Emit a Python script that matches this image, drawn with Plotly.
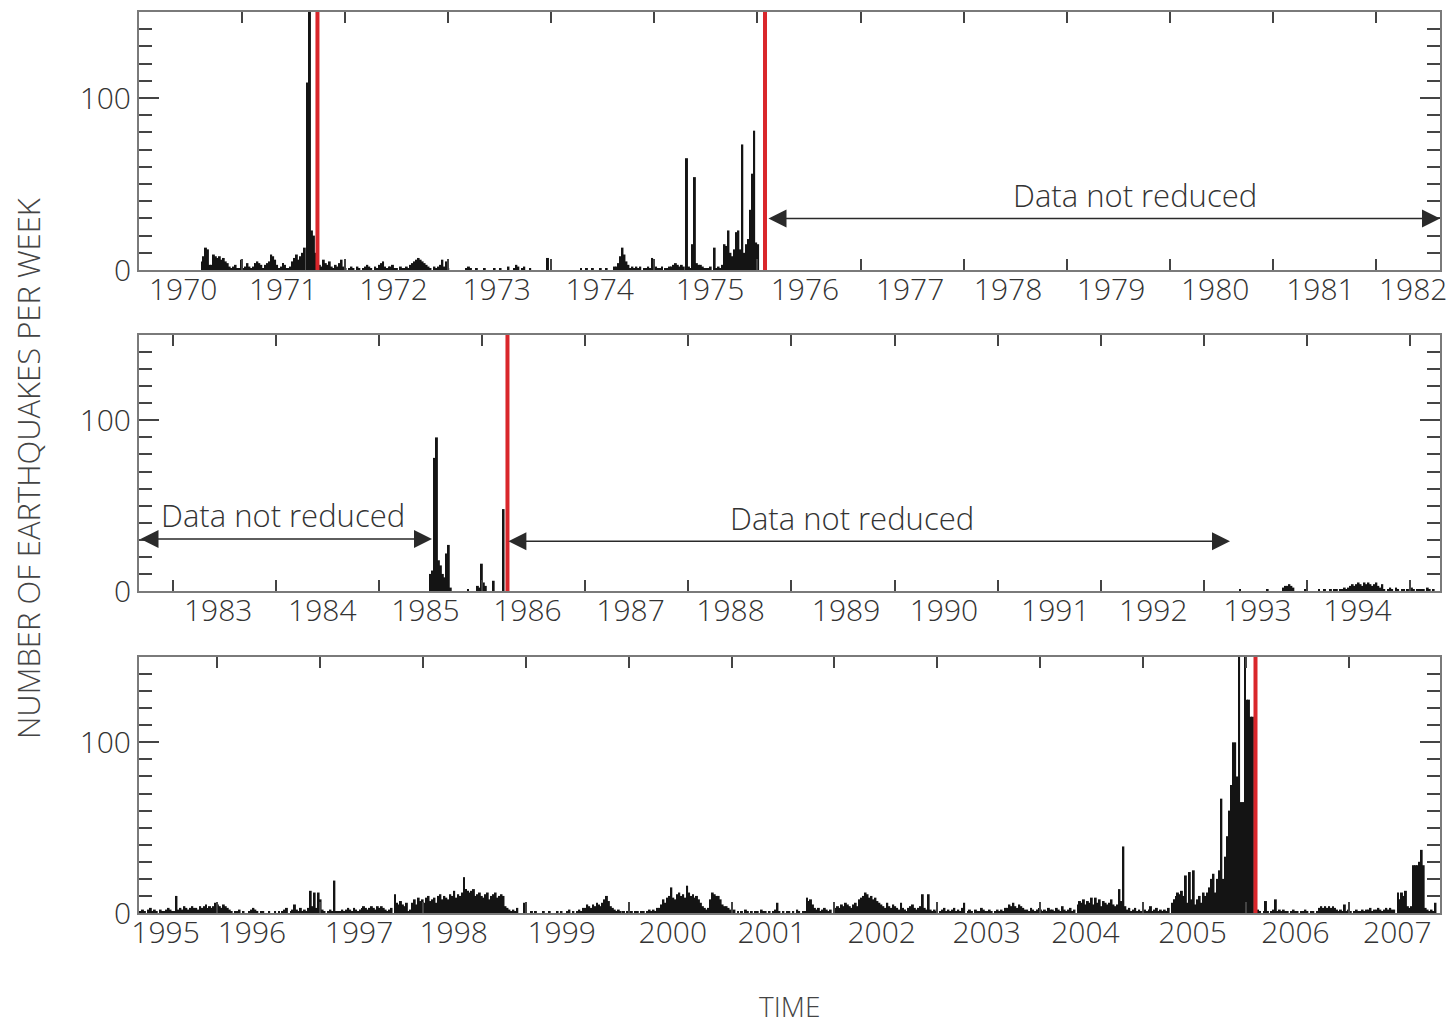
import plotly.graph_objects as go

# ---------------- DATA ----------------
# weekly earthquake counts, given as runs of consecutive weeks: (start year, counts)
p1_a_start, p1_a = 1970.612, [5, 8, 13, 12, 3, 3, 9, 8, 7, 8, 6, 7, 5, 4, 2, 1, 2, 3, 1, 1, 6, 1, 2, 4, 2, 1, 2, 4, 5, 4,
                               3, 1, 3, 4, 5, 9, 8, 6, 3, 1, 2, 4, 3, 1, 1, 2, 5, 7, 9, 6, 8, 10, 13]
p1_b_start, p1_b = 1971.640, [109, 200, 23, 20, 10, 4, 3, 2, 6, 4, 3, 5, 2, 1, 3, 2, 4, 6, 2, 1, 0, 1, 2, 1, 0, 2, 1, 0,
                               1, 2, 3, 2, 1, 0, 2, 1, 3, 4, 5, 2, 1, 2, 2, 3, 1, 1, 0, 2, 1, 1, 2, 1, 3, 4, 5, 6, 7, 6,
                               5, 4, 3, 2, 1, 0, 2, 1, 2, 3, 6, 2, 5, 1]
p1_c_start, p1_c = 1973.182, [1, 2, 1, 0, 0, 1, 0, 0, 0, 1, 0, 0, 0, 0, 1, 0, 0, 1, 0, 0, 0, 2, 0, 0, 1, 3, 2, 0, 1, 2,
                               0, 0, 1, 0, 0, 0, 0, 0, 0, 0, 0, 7]
p1_d_start, p1_d = 1974.288, [1, 0, 0, 1, 0, 0, 1, 0, 0, 0, 1, 0, 0, 1, 0, 0, 0, 2, 2, 4, 8, 13, 9, 5, 3, 1, 2, 1, 2, 1,
                               2, 0, 1, 1, 2, 1, 7, 1, 2, 1, 1, 2, 0, 1, 1, 2, 2, 3, 4, 3, 2, 3, 2]
p1_e_start, p1_e = 1975.316, [65, 2, 1, 15, 54, 4, 3, 3, 2, 1, 1, 1, 2, 0, 13, 1, 2, 1, 3, 15, 14, 23, 10, 8, 12, 22, 23,
                               12, 73, 10, 15, 18, 35, 56, 81, 16, 15]

p2_a_start, p2_a = 1985.504, [10, 12, 78, 90, 18, 15, 10, 8, 22, 27, 2]
p2_b_start, p2_b = 1985.863, [1, 0, 0, 0, 0, 3, 2, 16, 5, 3, 0, 0, 0, 6, 0, 0, 0, 0, 48]
p2_c_start, p2_c = 1993.351, [1, 0, 0, 0, 0, 0, 0, 0, 0, 0, 0, 0, 0, 0, 1, 0, 0, 0, 0, 0, 0, 0, 2, 3, 3, 4, 3, 2, 0, 0,
                               0, 0, 0, 1, 0, 0, 0, 0, 0, 0, 1, 0, 0, 1, 0, 0, 1, 0, 1, 1, 0, 1, 1, 2, 1, 2, 3, 4, 3, 4,
                               5, 4, 3, 5, 4, 5, 4, 3, 4, 5, 3, 2, 4, 1, 0, 1, 2, 1, 0, 2, 1, 0, 1, 1, 0, 1, 0, 2, 1, 0,
                               1, 1, 1, 1, 0, 2, 1, 0, 1]

p3_a_start, p3_a = 1995.261, [1, 2, 1, 0, 2, 3, 1, 2, 1, 0, 2, 1, 1, 2, 3, 2, 1, 1, 10, 2, 3, 2, 4, 3, 2, 3, 4, 3, 3, 2,
                               4, 3, 4, 5, 3, 4, 3, 4, 6, 5, 4, 3, 5, 4, 3, 2, 1, 0, 1, 1, 2, 0, 1, 0, 0, 1, 2, 3, 2, 1,
                               0, 1, 1, 0, 0, 1, 0, 0, 1, 0, 1, 0, 1, 2, 3]
p3_b_start, p3_b = 1996.719, [1, 2, 5, 2, 1, 3, 1, 2, 1, 3, 13, 4, 12, 3, 12, 8, 2, 1, 0, 1, 2, 1, 19, 1, 1, 1, 2, 1, 2,
                               3, 2, 1, 3, 2, 1, 2, 3, 4, 3, 2, 3, 4, 3, 2, 4, 3, 4, 3, 2, 1, 2, 3]
p3_c_start, p3_c = 1997.730, [11, 6, 5, 7, 5, 4, 6, 1, 2, 6, 8, 5, 9, 7, 8, 6, 9, 10, 7, 8, 9, 6, 10, 11, 8, 10, 9, 8,
                               11, 10, 13, 9, 11, 10, 12, 21, 14, 13, 12, 13, 14, 10, 11, 12, 10, 9, 11, 12, 8, 10, 11,
                               12, 9, 10, 11, 10, 4, 3, 2, 1, 2, 1, 3]
p3_d_start, p3_d = 1998.984, [6, 1, 0, 0, 1, 0, 1, 0, 0, 0, 1, 0, 0, 1, 0, 0, 0, 1, 0, 1, 0, 0, 1, 2, 0, 1, 0, 1, 2, 1,
                               3, 3, 5, 4, 3, 5, 4, 6, 5, 4, 6, 8, 10, 7, 4, 3, 2, 1, 2, 1]
p3_e_start, p3_e = 1999.955, [1, 0, 1, 0, 1, 0, 1, 1, 0, 1, 1, 0, 1, 2, 1, 2, 1, 3, 3, 5, 8, 6, 9, 10, 15, 9, 8, 11, 12,
                               10, 11, 9, 16, 12, 10, 11, 9, 10, 8, 6, 4, 3, 2, 3, 8, 12, 11, 10, 10, 8, 5, 4, 4, 3, 2,
                               1, 2]
p3_f_start, p3_f = 2001.063, [1, 0, 1, 0, 2, 1, 0, 1, 0, 1, 1, 0, 2, 1, 1, 0, 1, 0, 1, 2, 6, 1, 0, 1, 0, 1, 1, 0, 1, 0,
                               2, 1, 0, 1, 1, 9, 7, 8, 5, 3, 2, 3, 1, 2, 3, 2, 1, 2]
p3_g_start, p3_g = 2001.996, [2, 3, 4, 3, 5, 4, 6, 5, 4, 3, 5, 6, 4, 8, 9, 10, 12, 11, 9, 10, 8, 9, 7, 6, 5, 4, 3, 6, 4,
                               3, 5, 4, 3, 2, 6, 3, 2, 1, 3, 4, 5, 3, 2, 3, 4, 11, 3, 2, 11, 2, 1, 2, 1, 0, 1, 2, 3, 1,
                               2, 1, 2, 3, 1, 2, 1, 3, 6]
p3_h_start, p3_h = 2003.298, [1, 2, 1, 0, 2, 1, 1, 3, 2, 1, 1, 2, 1, 0, 1, 2, 1, 2, 1, 3, 3, 5, 4, 6, 4, 3, 5, 4, 3, 2,
                               2, 1, 3, 2, 1, 2, 3, 2, 1, 2, 1, 3, 2, 2, 1, 3, 2, 1, 4, 2, 1, 2, 3, 1, 2]
p3_i_start, p3_i = 2004.367, [5, 7, 6, 8, 5, 7, 6, 9, 5, 9, 6, 8, 4, 7, 6, 5, 6, 8, 5, 4, 5, 14, 7, 39, 4, 2, 3, 1, 2, 3,
                               1, 2, 1, 3, 2, 1, 2, 4, 1, 2, 3, 1, 2, 1, 2, 1, 3]
p3_j_start, p3_j = 2005.281, [6, 8, 10, 12, 11, 13, 10, 22, 6, 24, 8, 25, 5, 8, 10, 6, 12, 10, 12, 15, 20, 23, 12, 20,
                               25, 67, 20, 33, 45, 60, 75, 100, 100, 80, 200, 65, 65, 200, 125, 125, 115, 115]
p3_k_start, p3_k = 2006.117, [2, 1, 0, 1, 7, 1, 0, 1, 2, 8, 1, 2, 1, 2, 1, 1, 0, 1, 2, 1, 1, 0, 1, 1, 2, 1, 0, 1, 1, 0,
                               1, 3, 4, 3, 4, 3, 4, 3, 4, 3, 2, 1, 2, 1, 5, 1, 2, 1, 0, 1, 2, 1, 1, 2, 1, 2, 2, 3, 1, 2,
                               2, 3, 2, 1, 2, 3, 2, 3, 2, 2]
p3_l_start, p3_l = 2007.477, [12, 8, 12, 10, 13, 4, 3, 4, 28, 28, 28, 30, 37, 28, 3, 2, 1, 2, 1, 6]

# large earthquakes (red lines)
event_years = [1971.732, 1976.073, 1986.246, 2006.092]

# "Data not reduced" intervals and where their captions sit
gap_starts = [1976.092, 1982.672, 1986.240]
gap_ends = [1982.620, 1985.514, 1993.254]
gap_level = [30, 30.4, 29.2]
gap_label_x = [1979.66, 1984.07, 1989.59]
gap_label_y = [43.5, 44.5, 42.5]

# panel time spans
panel_start = [1970.001, 1982.672, 1995.242]
panel_end = [1982.620, 1995.291, 2007.885]

# tick labels (years) and their label positions
p1_years = list(range(1970, 1983))
p1_label_pos = [1970.43, 1971.40, 1972.47, 1973.47, 1974.47, 1975.54, 1976.46, 1977.48, 1978.43, 1979.43,
                1980.44, 1981.46, 1982.36]
p2_years = list(range(1983, 1995))
p2_label_pos = [1983.44, 1984.45, 1985.45, 1986.44, 1987.44, 1988.41, 1989.53, 1990.48, 1991.56, 1992.51,
                1993.52, 1994.49]
p3_years = list(range(1995, 2008))
p3_label_pos = [1995.50, 1996.34, 1997.38, 1998.30, 1999.35, 2000.43, 2001.39, 2002.46, 2003.48, 2004.44,
                2005.48, 2006.48, 2007.47]

WEEK = 7.0 / 365.25

panel_segments = [
    [(p1_a_start, p1_a), (p1_b_start, p1_b), (p1_c_start, p1_c), (p1_d_start, p1_d), (p1_e_start, p1_e)],
    [(p2_a_start, p2_a), (p2_b_start, p2_b), (p2_c_start, p2_c)],
    [(p3_a_start, p3_a), (p3_b_start, p3_b), (p3_c_start, p3_c), (p3_d_start, p3_d), (p3_e_start, p3_e),
     (p3_f_start, p3_f), (p3_g_start, p3_g), (p3_h_start, p3_h), (p3_i_start, p3_i), (p3_j_start, p3_j),
     (p3_k_start, p3_k), (p3_l_start, p3_l)],
]
panel_years = [p1_years, p2_years, p3_years]
panel_label_pos = [p1_label_pos, p2_label_pos, p3_label_pos]

# ---------------- FIGURE ----------------
FONT = "Open Sans, DejaVu Sans, sans-serif"
TXT = "#333333"
AX = "#7a7a7a"
TK = "#444444"

W, H = 1447, 1027
ML, MR, MT, MB = 139, 7, 12, 114
plot_h = H - MT - MB
panel_px = [(12, 270), (335, 591), (657, 913)]


def dom(top, bot):
    return [1 - (bot - MT) / plot_h, 1 - (top - MT) / plot_h]


fig = go.Figure()
layout = dict(
    width=W, height=H,
    margin=dict(l=ML, r=MR, t=MT, b=MB, autoexpand=False),
    plot_bgcolor="white", paper_bgcolor="white",
    showlegend=False,
    font=dict(family=FONT, color=TXT),
)

for k in range(3):
    xs, ys = [], []
    for start, vals in panel_segments[k]:
        for i, v in enumerate(vals):
            xs.append(start + i * WEEK)
            ys.append(v)
    sfx = "" if k == 0 else str(k + 1)
    fig.add_trace(go.Bar(x=xs, y=ys, width=WEEK, marker=dict(color="#141414", line=dict(width=0)),
                         xaxis="x" + sfx, yaxis="y" + sfx, hoverinfo="x+y"))
    lo, hi = panel_start[k], panel_end[k]
    year_ticks = [yr for yr in range(int(lo), int(hi) + 2) if lo < yr < hi]
    layout["xaxis" + sfx] = dict(
        domain=[0, 1], anchor="y" + sfx, range=[lo, hi], automargin=False,
        showgrid=False, zeroline=False, showline=True, linecolor=AX, linewidth=2, mirror="ticks",
        tickmode="array", tickvals=panel_label_pos[k], ticktext=[str(y) for y in panel_years[k]],
        ticks="", ticklabelstandoff=-8, ticklabeloverflow="allow",
        tickfont=dict(size=30, color=TXT, family=FONT, weight=300),
        minor=dict(tickmode="array", tickvals=year_ticks, ticks="inside", ticklen=11, tickcolor=TK, tickwidth=1.5),
    )
    layout["yaxis" + sfx] = dict(
        domain=dom(*panel_px[k]), anchor="x" + sfx, range=[0, 150], automargin=False,
        showgrid=False, zeroline=False, showline=True, linecolor=AX, linewidth=2, mirror="ticks",
        tickmode="array", tickvals=[0, 100], ticks="inside", ticklen=20, tickwidth=1.5, tickcolor=TK,
        tickfont=dict(size=30, color=TXT, family=FONT, weight=300),
        minor=dict(dtick=10, tick0=0, ticks="inside", ticklen=13, tickwidth=1.5, tickcolor=TK),
    )

shapes = []
for ev in event_years:
    k = next(i for i in range(3) if panel_start[i] <= ev <= panel_end[i])
    sfx = "" if k == 0 else str(k + 1)
    shapes.append(dict(type="line", xref="x" + sfx, yref="y" + sfx + " domain", x0=ev, x1=ev, y0=0, y1=1,
                       line=dict(color="#d9262b", width=4), layer="above"))
layout["shapes"] = shapes

annotations = []
for s, e, lev, tx, ty in zip(gap_starts, gap_ends, gap_level, gap_label_x, gap_label_y):
    k = next(i for i in range(3) if panel_start[i] - 0.01 <= s <= panel_end[i])
    sfx = "" if k == 0 else str(k + 1)
    annotations.append(dict(x=e, y=lev, ax=s, ay=lev, xref="x" + sfx, yref="y" + sfx, axref="x" + sfx,
                            ayref="y" + sfx, text="", showarrow=True, arrowside="end+start", arrowhead=2,
                            arrowsize=2.4, arrowwidth=1.5, arrowcolor="#2a2a2a"))
    annotations.append(dict(x=tx, y=ty, xref="x" + sfx, yref="y" + sfx, text="Data not reduced",
                            xanchor="center", yanchor="middle",
                            showarrow=False, font=dict(size=31, color=TXT, family=FONT, weight=300)))

annotations.append(dict(x=(28 - ML) / (W - ML - MR), y=1 - (468 - MT) / plot_h, xref="paper", yref="paper",
                        xanchor="center", yanchor="middle",
                        text="NUMBER OF EARTHQUAKES PER WEEK", textangle=-90, showarrow=False,
                        font=dict(size=31, color="#444444", family=FONT, weight=300)))
annotations.append(dict(x=0.5, y=1 - (1026 - MT) / plot_h, xref="paper", yref="paper", text="TIME",
                        xanchor="center", yanchor="bottom", borderpad=0,
                        showarrow=False, font=dict(size=28, color="#444444", family=FONT, weight=300)))
layout["annotations"] = annotations

fig.update_layout(**layout)
fig.write_html("out.html")
